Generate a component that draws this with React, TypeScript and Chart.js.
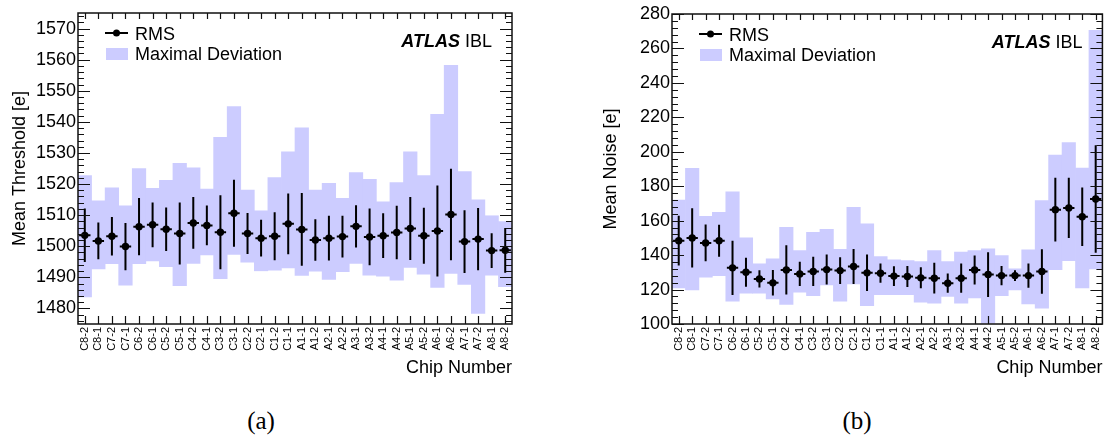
import React, { useEffect, useRef } from "react";
import { Chart, registerables } from "chart.js";

Chart.register(...registerables);

const FONT = '"Liberation Sans", Arial, Helvetica, sans-serif';
const BAND_COLOR = "#ccccff";

const chipLabels = [
  "C8-2", "C8-1", "C7-2", "C7-1", "C6-2", "C6-1", "C5-2", "C5-1",
  "C4-2", "C4-1", "C3-2", "C3-1", "C2-2", "C2-1", "C1-2", "C1-1",
  "A1-1", "A1-2", "A2-1", "A2-2", "A3-1", "A3-2", "A4-1", "A4-2",
  "A5-1", "A5-2", "A6-1", "A6-2", "A7-1", "A7-2", "A8-1", "A8-2",
];

// Panel (a): mean threshold [e]
const thresholdMean = [
  1503.5, 1501.7, 1503.2, 1499.9, 1506.3, 1506.9, 1505.5, 1504.1,
  1507.5, 1506.7, 1504.5, 1510.6, 1504.1, 1502.6, 1503.2, 1507.2,
  1505.4, 1502.0, 1502.6, 1503.1, 1506.4, 1503.0, 1503.4, 1504.4,
  1505.7, 1503.4, 1504.9, 1510.2, 1501.5, 1502.3, 1498.6, 1498.7,
];
const thresholdRms = [
  8.6, 5.9, 6.2, 7.6, 9.2, 7.2, 7.0, 10.0,
  8.3, 6.4, 11.9, 10.8, 6.6, 5.9, 7.7, 9.8,
  11.7, 6.7, 7.2, 6.7, 6.8, 9.1, 7.2, 8.6,
  10.1, 9.0, 14.6, 14.7, 10.1, 10.0, 5.6, 7.2,
];
const thresholdDevLow = [
  1483.7, 1492.7, 1494.4, 1487.5, 1494.4, 1495.3, 1493.4, 1487.3,
  1494.5, 1497.2, 1489.6, 1497.4, 1494.9, 1492.1, 1492.3, 1493.0,
  1490.6, 1492.0, 1489.3, 1491.8, 1494.5, 1490.7, 1490.4, 1489.1,
  1493.2, 1491.0, 1486.8, 1491.3, 1487.7, 1478.4, 1490.7, 1487.0,
];
const thresholdDevHigh = [
  1522.7, 1514.6, 1518.8, 1513.0, 1525.0, 1518.6, 1521.2, 1526.7,
  1525.2, 1518.4, 1535.0, 1544.9, 1518.1, 1511.4, 1522.1, 1530.4,
  1538.1, 1518.1, 1520.2, 1515.4, 1523.7, 1521.5, 1514.3, 1520.5,
  1530.4, 1522.7, 1542.4, 1558.2, 1524.0, 1514.9, 1509.8, 1507.9,
];

// Panel (b): mean noise [e]
const noiseMean = [
  148.4, 150.0, 147.1, 148.4, 132.6, 130.1, 126.2, 123.9,
  131.4, 129.1, 130.5, 131.6, 131.0, 133.4, 129.7, 129.5,
  127.8, 127.6, 126.8, 126.6, 123.7, 126.6, 131.4, 128.7,
  128.1, 128.1, 128.1, 130.5, 166.4, 167.4, 162.3, 172.6,
];
const noiseRms = [
  14.5, 17.2, 10.7, 9.3, 15.8, 8.4, 5.0, 7.4,
  14.3, 7.0, 8.5, 8.7, 7.8, 10.2, 10.6, 5.6,
  5.8, 6.1, 6.1, 8.9, 5.6, 8.5, 8.4, 13.0,
  5.6, 3.1, 7.0, 12.9, 18.5, 17.5, 17.0, 31.2,
];
const noiseDevLow = [
  121.0, 119.8, 127.2, 128.1, 113.3, 117.9, 117.9, 114.6,
  111.3, 118.5, 116.5, 122.7, 113.3, 123.3, 110.7, 117.1,
  117.1, 117.1, 112.7, 112.1, 116.0, 112.1, 115.2, 100.5,
  116.5, 119.8, 111.7, 109.2, 131.6, 136.8, 121.0, 132.0,
];
const noiseDevHigh = [
  172.0, 190.4, 162.5, 164.9, 176.8, 150.0, 134.9, 137.8,
  156.2, 142.6, 153.3, 155.0, 143.4, 167.8, 158.1, 139.1,
  137.2, 136.8, 136.3, 142.6, 136.3, 141.7, 142.6, 143.6,
  139.7, 132.0, 143.0, 171.6, 198.1, 205.4, 190.6, 270.5,
];

type PanelProps = {
  mean: number[];
  rms: number[];
  low: number[];
  high: number[];
  yMin: number;
  yMax: number;
  major: number;
  minor: number;
  yTitle: string;
  left: number;
  width: number;
  height: number;
  yAxisWidth: number;
  padTop: number;
  padRight: number;
  titlePad: number;
};

const isMultiple = (v: number, step: number) =>
  Math.abs(v / step - Math.round(v / step)) < 1e-6;

function Panel(p: PanelProps) {
  const ref = useRef<HTMLCanvasElement | null>(null);

  useEffect(() => {
    const canvas = ref.current;
    if (!canvas) return;

    const rootStyle = {
      id: "rootStyle",
      afterDatasetsDraw(chart: any) {
        const ctx = chart.ctx;
        const xs = chart.scales.x;
        const ys = chart.scales.y;
        const binW = xs.getPixelForValue(1) - xs.getPixelForValue(0);
        ctx.save();
        ctx.strokeStyle = "#000";
        ctx.lineWidth = 2;
        p.mean.forEach((m, i) => {
          const px = xs.getPixelForValue(i);
          const py = ys.getPixelForValue(m);
          const yT = ys.getPixelForValue(m + p.rms[i]);
          const yB = ys.getPixelForValue(m - p.rms[i]);
          const half = binW * 0.42;
          ctx.beginPath();
          ctx.moveTo(px, yT);
          ctx.lineTo(px, yB);
          ctx.moveTo(px - half, py);
          ctx.lineTo(px + half, py);
          ctx.stroke();
        });
        ctx.restore();
      },
      afterDraw(chart: any) {
        const ctx = chart.ctx;
        const xs = chart.scales.x;
        const ys = chart.scales.y;
        const { left, right, top, bottom } = chart.chartArea;
        ctx.save();
        // frame
        ctx.strokeStyle = "#111";
        ctx.lineWidth = 1.5;
        ctx.strokeRect(left, top, right - left, bottom - top);
        // y ticks (left and right, inward)
        ctx.lineWidth = 1.2;
        const start = Math.ceil(p.yMin / p.minor) * p.minor;
        for (let v = start; v <= p.yMax + 1e-9; v += p.minor) {
          const len = isMultiple(v, p.major) ? 12 : 6;
          const py = Math.round(ys.getPixelForValue(v)) + 0.5;
          ctx.beginPath();
          ctx.moveTo(left, py);
          ctx.lineTo(left + len, py);
          ctx.moveTo(right, py);
          ctx.lineTo(right - len, py);
          ctx.stroke();
        }
        // x ticks (top and bottom, inward)
        for (let i = 0; i < chipLabels.length; i++) {
          const px = Math.round(xs.getPixelForValue(i)) + 0.5;
          ctx.beginPath();
          ctx.moveTo(px, bottom);
          ctx.lineTo(px, bottom - 8);
          ctx.moveTo(px, top);
          ctx.lineTo(px, top + 6);
          ctx.stroke();
        }
        // legend
        ctx.fillStyle = "#000";
        ctx.strokeStyle = "#000";
        ctx.lineWidth = 2;
        ctx.beginPath();
        ctx.moveTo(left + 27, top + 20);
        ctx.lineTo(left + 50, top + 20);
        ctx.stroke();
        ctx.beginPath();
        ctx.arc(left + 38.5, top + 20, 3.5, 0, Math.PI * 2);
        ctx.fill();
        ctx.fillStyle = BAND_COLOR;
        ctx.fillRect(left + 28, top + 35, 22, 12);
        ctx.fillStyle = "#000";
        ctx.font = `18px ${FONT}`;
        ctx.textBaseline = "middle";
        ctx.textAlign = "left";
        ctx.fillText("RMS", left + 57, top + 22);
        ctx.fillText("Maximal Deviation", left + 57, top + 42);
        // ATLAS IBL
        ctx.textAlign = "right";
        const ibl = "IBL";
        const iblRight = right - 20;
        ctx.fillText(ibl, iblRight, top + 29);
        const iblW = ctx.measureText(ibl).width;
        ctx.font = `italic bold 18px ${FONT}`;
        ctx.fillText("ATLAS", iblRight - iblW - 5, top + 29);
        ctx.restore();
      },
    };

    const chart = new Chart(canvas, {
      type: "bar",
      data: {
        labels: chipLabels,
        datasets: [
          {
            type: "line",
            label: "RMS",
            data: p.mean,
            showLine: false,
            pointRadius: 3.7,
            pointBackgroundColor: "#000",
            pointBorderColor: "#000",
            pointBorderWidth: 0,
            order: 0,
          } as any,
          {
            type: "bar",
            label: "Maximal Deviation",
            data: p.low.map((l, i) => [l, p.high[i]]),
            backgroundColor: BAND_COLOR,
            borderWidth: 0,
            barPercentage: 1,
            categoryPercentage: 1,
            order: 1,
          } as any,
        ],
      },
      options: {
        animation: false,
        responsive: false,
        maintainAspectRatio: false,
        events: [],
        layout: {
          padding: { left: 0, top: p.padTop, right: p.padRight, bottom: 0 },
        },
        plugins: {
          legend: { display: false },
          tooltip: { enabled: false },
        },
        scales: {
          x: {
            type: "category",
            offset: true,
            grid: { display: false, drawTicks: false },
            border: { display: false },
            ticks: {
              autoSkip: false,
              minRotation: 90,
              maxRotation: 90,
              padding: 3,
              color: "#000",
              font: { family: FONT, size: 11 },
            },
            title: {
              display: true,
              text: "Chip Number",
              align: "end",
              color: "#000",
              font: { family: FONT, size: 18 },
              padding: { top: 0, bottom: 6 },
            },
            afterFit: (s: any) => {
              s.height = p.height - 324;
            },
          },
          y: {
            type: "linear",
            min: p.yMin,
            max: p.yMax,
            grid: { display: false, drawTicks: false },
            border: { display: false },
            ticks: {
              stepSize: p.major,
              padding: 2,
              color: "#000",
              font: { family: FONT, size: 18 },
              callback: (v: any) => String(v),
            },
            title: {
              display: true,
              text: p.yTitle,
              color: "#000",
              font: { family: FONT, size: 18 },
              padding: { top: p.titlePad, bottom: 0 },
            },
            afterBuildTicks: (s: any) => {
              const t: any[] = [];
              const first = Math.ceil(p.yMin / p.major - 1e-9) * p.major;
              for (let v = first; v <= p.yMax + 1e-9; v += p.major) {
                t.push({ value: v });
              }
              s.ticks = t;
            },
            afterFit: (s: any) => {
              s.width = p.yAxisWidth;
            },
          },
        },
      } as any,
      plugins: [rootStyle as any],
    });

    return () => chart.destroy();
  }, []);

  return (
    <canvas
      ref={ref}
      width={p.width}
      height={p.height}
      style={{
        position: "absolute",
        left: p.left,
        top: 0,
        width: p.width,
        height: p.height,
      }}
    />
  );
}

const captionStyle = (center: number): React.CSSProperties => ({
  position: "absolute",
  left: center - 50,
  width: 100,
  top: 408,
  textAlign: "center",
  fontFamily: '"Liberation Serif", "Times New Roman", serif',
  fontSize: 25,
  lineHeight: "25px",
  color: "#000",
});

export default function App() {
  return (
    <div
      style={{
        position: "fixed",
        left: 0,
        top: 0,
        width: 1112,
        height: 437,
        background: "#fff",
        overflow: "hidden",
      }}
    >
      <Panel
        mean={thresholdMean}
        rms={thresholdRms}
        low={thresholdDevLow}
        high={thresholdDevHigh}
        yMin={1475}
        yMax={1575}
        major={10}
        minor={2}
        yTitle="Mean Threshold [e]"
        left={0}
        width={540}
        height={385}
        yAxisWidth={78}
        padTop={13}
        padRight={28}
        titlePad={9}
      />
      <Panel
        mean={noiseMean}
        rms={noiseRms}
        low={noiseDevLow}
        high={noiseDevHigh}
        yMin={100}
        yMax={280}
        major={20}
        minor={4}
        yTitle="Mean Noise [e]"
        left={590}
        width={522}
        height={385}
        yAxisWidth={82}
        padTop={14}
        padRight={7}
        titlePad={10}
      />
      <div style={captionStyle(261)}>(a)</div>
      <div style={captionStyle(857)}>(b)</div>
    </div>
  );
}
